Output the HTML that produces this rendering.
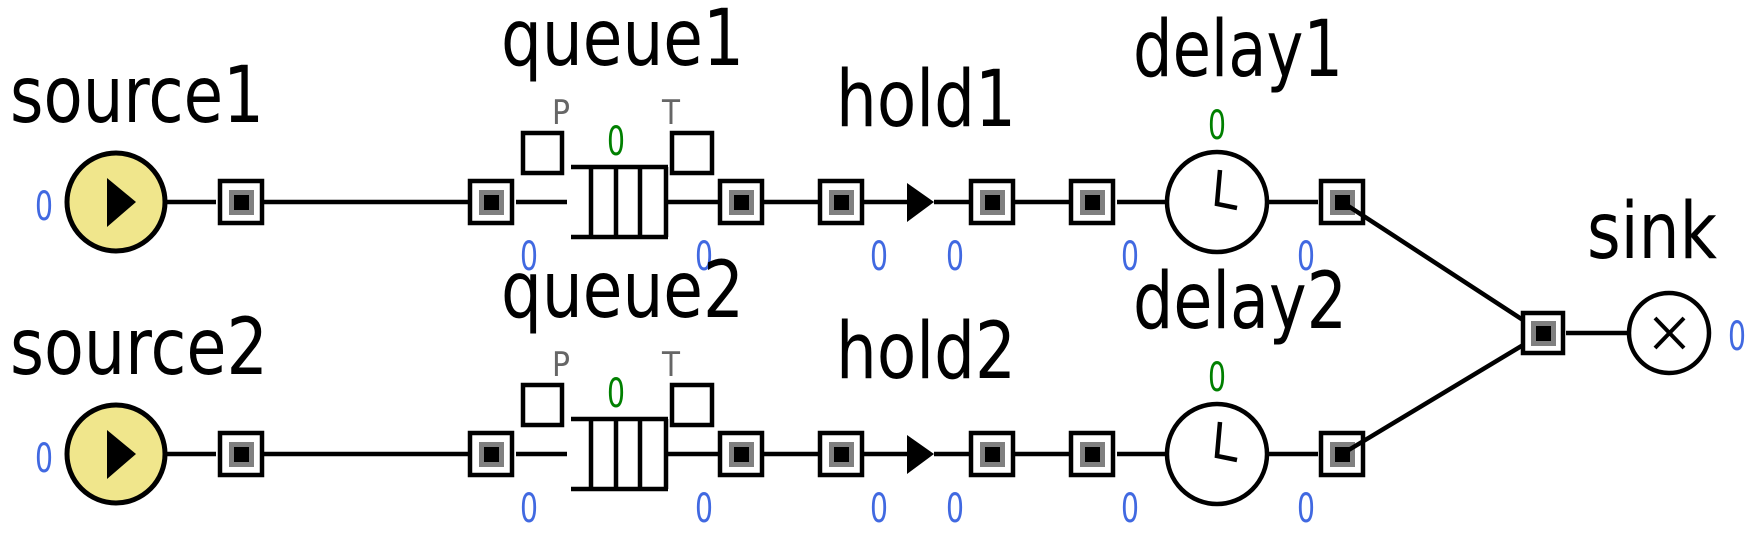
<!DOCTYPE html>
<html><head><meta charset="utf-8"><style>
html,body{margin:0;padding:0;background:#fff;}
svg{display:block;}
text{font-family:"DejaVu Sans","Liberation Sans",sans-serif;}
</style></head><body>
<svg width="1757" height="536" viewBox="0 0 1757 536">
<g id="rows"></g>
<g>
  <line x1="1342" y1="202" x2="1543" y2="333" stroke="#000" stroke-width="4.5"/>
  <line x1="1342" y1="454" x2="1543" y2="333" stroke="#000" stroke-width="4.5"/>
  <line x1="1566" y1="333" x2="1628" y2="333" stroke="#000" stroke-width="4.5"/>
  <g>
    <rect x="1523" y="313" width="40" height="40" fill="#fff" stroke="#000" stroke-width="4.5"/>
    <rect x="1531" y="321" width="25" height="25" fill="#808080"/>
    <rect x="1536" y="326" width="15" height="15" fill="#000"/>
  </g>
  <circle cx="1669" cy="333" r="40" fill="#fff" stroke="#000" stroke-width="4.5"/>
  <line x1="1655" y1="318" x2="1684" y2="348" stroke="#000" stroke-width="4"/>
  <line x1="1684" y1="318" x2="1655" y2="348" stroke="#000" stroke-width="4"/>
  <text x="1587" y="258" font-size="78" textLength="130" lengthAdjust="spacingAndGlyphs">sink</text>
  <text x="1737" y="350" font-size="40" fill="#4169e1" text-anchor="middle" textLength="18" lengthAdjust="spacingAndGlyphs">0</text>
</g>
</svg>
<script>
const rowNames = ['1','2'];
const rowY = [202, 454];
const NS='http://www.w3.org/2000/svg';
const root=document.getElementById('rows');
function mk(tag,attrs,parent){const e=document.createElementNS(NS,tag);for(const k in attrs)e.setAttribute(k,attrs[k]);parent.appendChild(e);return e;}
function port(x,y,g,name){
  const p=mk('g',{},g);
  
  
  mk('rect',{x:x-21,y:y-21,width:42,height:42,fill:'#fff',stroke:'#000','stroke-width':4.5},p);
  mk('rect',{x:x-12,y:y-12,width:25,height:25,fill:'#808080'},p);
  mk('rect',{x:x-7,y:y-7,width:15,height:15,fill:'#000'},p);
}
function line(x1,y1,x2,y2,g){mk('line',{x1,y1,x2,y2,stroke:'#000','stroke-width':4.5},g);}
function txt(x,y,s,size,fill,g,name,anchor,len){
  const t=mk('text',{x,y,'font-size':size,fill:fill,'text-anchor':anchor||'start'},g);
  if(len){t.setAttribute('textLength',len);t.setAttribute('lengthAdjust','spacingAndGlyphs');}
  t.textContent=s;
  
  
  return t;
}
function zero(x,y,fill,g,name){return txt(x,y,'0',40,fill,g,name,'middle',18);}
rowNames.forEach((n,i)=>{
  const y=rowY[i], d=y-202;
  const g=mk('g',{},root);
  
  
  line(164,y,216,y,g); line(241,y,491,y,g); line(516,y,567,y,g);
  line(668,y,741,y,g); line(741,y,841,y,g); line(841,y,907,y,g);
  line(934,y,992,y,g); line(992,y,1092,y,g); line(1117,y,1167,y,g); line(1269,y,1318,y,g);
  const sc=mk('circle',{cx:116,cy:y,r:49,fill:'#f0e68c',stroke:'#000','stroke-width':5},g);
  
  
  mk('polygon',{points:`107,${178+d} 136,${y} 107,${227+d}`,fill:'#000'},g);
  txt(10,122+d,'source'+n,78,'#000',g,'source'+n+'-label','start',254+(n==='2'?4:0));
  zero(44,220+d,'#4169e1',g,'source'+n+'-count');
  port(241,y,g,'source'+n+'-out-port');
  port(491,y,g,'queue'+n+'-in-port');
  port(741,y,g,'queue'+n+'-out-port');
  port(841,y,g,'hold'+n+'-in-port');
  port(992,y,g,'hold'+n+'-out-port');
  port(1092,y,g,'delay'+n+'-in-port');
  port(1342,y,g,'delay'+n+'-out-port');
  const q=mk('g',{},g);
  
  
  line(571,167+d,668,167+d,q); line(571,237+d,668,237+d,q);
  [591,616,640,666].forEach(x=>line(x,167+d,x,237+d,q));
  mk('rect',{x:523,y:133+d,width:39,height:40,fill:'#fff',stroke:'#000','stroke-width':4.5},q);
  mk('rect',{x:672,y:133+d,width:40,height:40,fill:'#fff',stroke:'#000','stroke-width':4.5},q);
  txt(561,124+d,'P',34,'#666',g,'queue'+n+'-p-label','middle',18);
  txt(671,124+d,'T',34,'#666',g,'queue'+n+'-t-label','middle',18);
  zero(616,155+d,'#008000',g,'queue'+n+'-size');
  txt(501,65+d,'queue'+n,78,'#000',g,'queue'+n+'-label','start',243);
  zero(529,270+d,'#4169e1',g,'queue'+n+'-in-count');
  zero(704,270+d,'#4169e1',g,'queue'+n+'-out-count');
  const h=mk('polygon',{points:`907,${183+d} 934,${y} 907,${222+d}`,fill:'#000'},g);
  
  
  txt(836,126+d,'hold'+n,78,'#000',g,'hold'+n+'-label','start',180);
  zero(879,270+d,'#4169e1',g,'hold'+n+'-in-count');
  zero(955,270+d,'#4169e1',g,'hold'+n+'-out-count');
  const dc=mk('circle',{cx:1217,cy:y,r:50,fill:'#fff',stroke:'#000','stroke-width':4.5},g);
  
  
  mk('polyline',{points:`1220,${170+d} 1217,${204+d} 1237,${208+d}`,fill:'none',stroke:'#000','stroke-width':4.5},g);
  zero(1217,139+d,'#008000',g,'delay'+n+'-size');
  txt(1133,76+d,'delay'+n,78,'#000',g,'delay'+n+'-label','start',210+(n==='2'?4:0));
  zero(1130,270+d,'#4169e1',g,'delay'+n+'-in-count');
  zero(1306,270+d,'#4169e1',g,'delay'+n+'-out-count');
});
</script>
</body></html>
